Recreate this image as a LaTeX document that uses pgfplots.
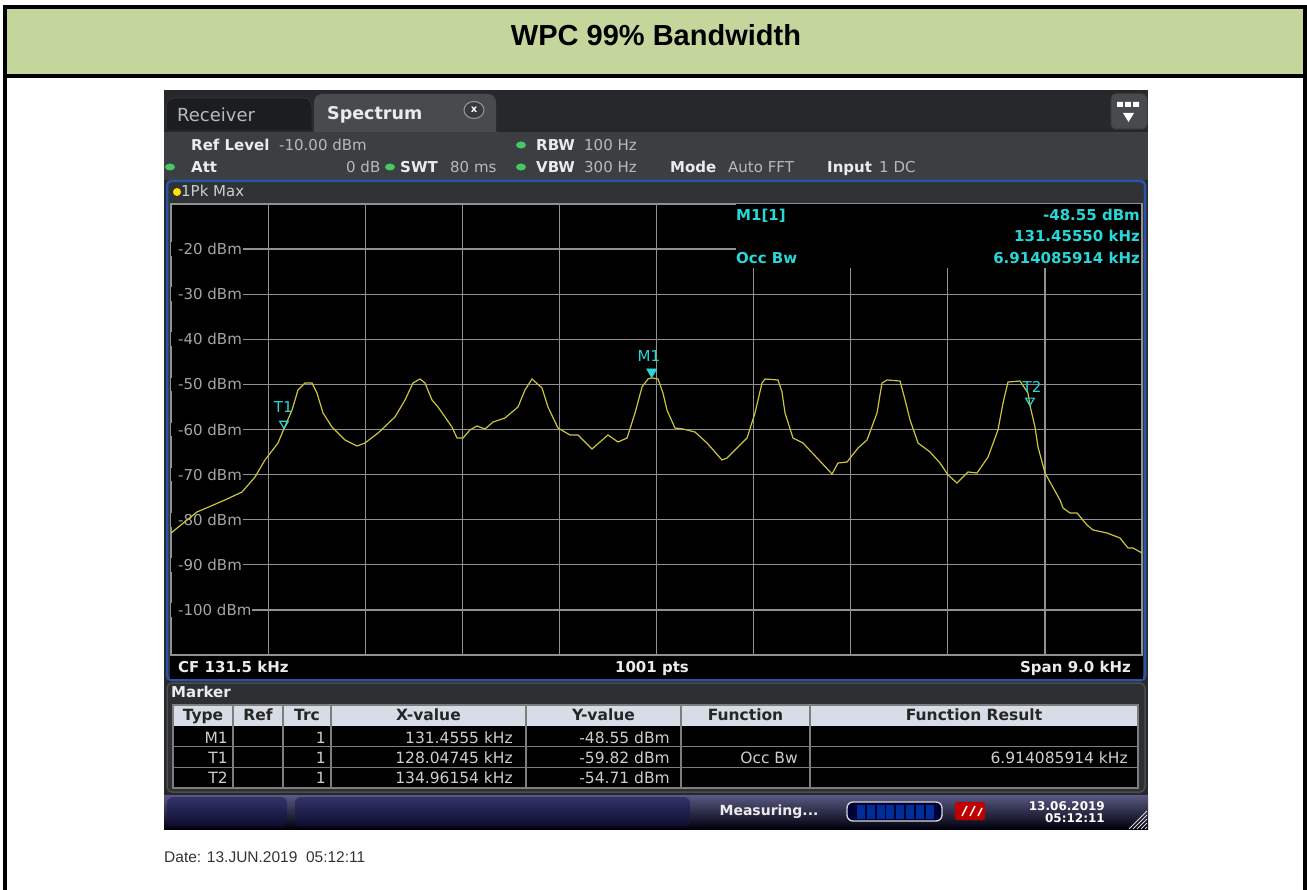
\documentclass[border=0pt]{standalone}
\usepackage{pgfplots}
\pgfplotsset{compat=1.18}
\usepackage{fontspec}
\setmainfont{Liberation Sans}
\newfontfamily\rs{DejaVu Sans}
\newcommand\sz[1]{\fontsize{#1}{#1}\selectfont}
\definecolor{titlegreen}{RGB}{196,214,156}
\definecolor{cyanrs}{RGB}{40,215,215}
\definecolor{trace}{RGB}{205,195,60}
\definecolor{gridc}{RGB}{145,145,145}
\definecolor{lbl}{RGB}{165,165,165}
\definecolor{bgtop}{RGB}{38,40,43}
\definecolor{bginfo}{RGB}{60,63,66}
\definecolor{tabdark}{RGB}{28,29,31}
\definecolor{tablight}{RGB}{72,75,78}
\definecolor{frameblue}{RGB}{40,85,165}
\definecolor{strip}{RGB}{48,51,54}
\definecolor{panel}{RGB}{45,48,51}
\definecolor{hdr}{RGB}{214,221,230}
\definecolor{rowtxt}{RGB}{205,205,205}
\definecolor{cellline}{RGB}{125,125,125}
\definecolor{ledgreen}{RGB}{70,200,100}
\definecolor{valgray}{RGB}{185,185,185}
\definecolor{navyA}{RGB}{50,50,105}
\definecolor{navyB}{RGB}{14,14,50}
\begin{document}
\begin{tikzpicture}[x=1pt,y=-1pt]
% ---------- page ----------
\fill[white] (0,0) rectangle (1307,890);
\fill[titlegreen] (5,7) rectangle (1305,76);
\draw[line width=4pt] (5,890) -- (5,7) -- (1305,7) -- (1305,890);
\draw[line width=4pt] (5,76) -- (1305,76);
\node[anchor=base, font=\bfseries\sz{29}, inner sep=0pt] at (656,46) {WPC 99\% Bandwidth};
\node[anchor=base west, inner sep=0pt, font=\sz{15.5}, text=black!80] at (164,862.5) {Date: 13.JUN.2019\ \ 05:12:11};
% ---------- instrument ----------
\fill[bgtop] (164,90) rectangle (1148,829);
\fill[bginfo] (164,131) rectangle (1148,180);
\filldraw[fill=tabdark, draw=black!60!gray, line width=1pt, rounded corners=8pt] (166,131) -- (166,98) -- (312,98) -- (312,131);
\fill[tablight, rounded corners=8pt] (314,132) -- (314,94) -- (496,94) -- (496,132);
\fill[tablight] (314,125) rectangle (496,132);
\draw[black!85, line width=1.5pt] (164,131) -- (313,131);
\draw[black!85, line width=1.5pt] (497,131) -- (1148,131);
\node[anchor=base west, inner sep=0pt, font=\rs\sz{18}, text=valgray] at (177,121.5) {Receiver};
\node[anchor=base west, inner sep=0pt, font=\rs\bfseries\sz{17.5}, text=white!92!black] at (327,119.5) {Spectrum};
\filldraw[fill=black!55!gray, draw=gray!80, line width=1pt] (474,110) ellipse (10 and 8.5);
\node[font=\rs\bfseries\sz{10}, text=white] at (474,110) {x};
\filldraw[fill=tablight, draw=black!50!gray, line width=1pt, rounded corners=5pt] (1111,94) rectangle (1147,129);
\fill[white] (1117,102) rectangle (1123,107) (1125,102) rectangle (1131,107) (1133,102) rectangle (1139,107);
\fill[white] (1123,113) -- (1134,113) -- (1128.5,122) -- cycle;
% info bar
\begin{scope}[every node/.style={anchor=base west, inner sep=0pt}]
\node[font=\rs\bfseries\sz{15}, text=white!92!black] at (191,150.5) {Ref Level};
\node[font=\rs\sz{15}, text=valgray] at (279,150.5) {-10.00 dBm};
\node[font=\rs\bfseries\sz{15}, text=white!92!black] at (536,150.5) {RBW};
\node[font=\rs\sz{15}, text=valgray] at (584,150.5) {100 Hz};
\node[font=\rs\bfseries\sz{15}, text=white!92!black] at (191,172.5) {Att};
\node[font=\rs\sz{15}, text=valgray] at (346,172.5) {0 dB};
\node[font=\rs\bfseries\sz{15}, text=white!92!black] at (400,172.5) {SWT};
\node[font=\rs\sz{15}, text=valgray] at (450,172.5) {80 ms};
\node[font=\rs\bfseries\sz{15}, text=white!92!black] at (536,172.5) {VBW};
\node[font=\rs\sz{15}, text=valgray] at (584,172.5) {300 Hz};
\node[font=\rs\bfseries\sz{15}, text=white!92!black] at (670,172.5) {Mode};
\node[font=\rs\sz{15}, text=valgray] at (728,172.5) {Auto FFT};
\node[font=\rs\bfseries\sz{15}, text=white!92!black] at (827,172.5) {Input};
\node[font=\rs\sz{15}, text=valgray] at (879,172.5) {1 DC};
\end{scope}
\fill[ledgreen] (521,145) ellipse (5 and 3.5);
\fill[ledgreen] (170,167) ellipse (5 and 3.5);
\fill[ledgreen] (390,167) ellipse (5 and 3.5);
\fill[ledgreen] (521,167) ellipse (5 and 3.5);
% plot panel
\filldraw[fill=strip, draw=frameblue, line width=2.5pt, rounded corners=4pt] (167,181) rectangle (1145,680);
\fill[black] (170,203) rectangle (1143,678.5);
\fill[yellow!85!orange] (177,192) circle (4);
\node[anchor=base west, inner sep=0pt, font=\rs\sz{15}, text=rowtxt] at (181,197) {1Pk Max};
\node[anchor=base west, inner sep=0pt, font=\rs\bfseries\sz{15}, text=white!92!black] at (178,672.5) {CF 131.5 kHz};
\node[anchor=base, inner sep=0pt, font=\rs\bfseries\sz{15}, text=white!92!black] at (652,672.5) {1001 pts};
\node[anchor=base east, inner sep=0pt, font=\rs\bfseries\sz{15}, text=white!92!black] at (1131,672.5) {Span 9.0 kHz};
% ---------- axis 1: grid ----------
\begin{scope}[x=1pt,y=1pt]
\begin{axis}[at={(171pt,-655pt)}, anchor=south west, scale only axis,
  width=971pt, height=451pt, xmin=127, xmax=136, ymin=-110, ymax=-10,
  xtick={127.9,128.8,129.7,130.6,131.5,132.4,133.3,134.2,135.1},
  ytick={-100,-90,-80,-70,-60,-50,-40,-30,-20},
  xticklabels={}, yticklabels={}, major tick length=0pt,
  grid=major, grid style={draw=gridc, line width=1.2pt},
  axis line style={draw=gridc, line width=1.2pt},
  axis background/.style={fill=black}]
\addplot[draw=none] coordinates {(127,-110) (136,-10)};
\pgfplotsinvokeforeach{-20,-30,-40,-50,-60,-70,-80,-90}{
  \node[anchor=west, fill=black, inner ysep=1pt, inner xsep=0pt, text=lbl, font=\rs\sz{15}] at (axis cs:127,#1) {\hspace*{7pt}#1 dBm\hspace*{1pt}};
}
\node[anchor=west, fill=black, inner ysep=1pt, inner xsep=0pt, text=lbl, font=\rs\sz{15}] at (axis cs:127,-100) {\hspace*{7pt}-100 dBm\hspace*{1pt}};
\end{axis}
\end{scope}
% marker info box
\fill[black] (736,204.5) rectangle (1141,268);
\begin{scope}[every node/.style={inner sep=0pt, font=\rs\bfseries\sz{15}, text=cyanrs}]
\node[anchor=base west] at (736,220.5) {M1[1]};
\node[anchor=base east] at (1140,220.5) {-48.55 dBm};
\node[anchor=base east] at (1140,241.5) {131.45550 kHz};
\node[anchor=base west] at (736,263.5) {Occ Bw};
\node[anchor=base east] at (1140,263.5) {6.914085914 kHz};
\end{scope}
% ---------- axis 2: trace ----------
\begin{scope}[x=1pt,y=1pt]
\begin{axis}[at={(171pt,-655pt)}, anchor=south west, scale only axis,
  width=971pt, height=451pt, xmin=127, xmax=136, ymin=-110, ymax=-10,
  hide axis, clip=false]
\addplot[trace, line width=1.2pt] coordinates {
(127.000,-82.95) (127.241,-78.29) (127.500,-75.63) (127.658,-73.86) (127.779,-70.53)
(127.871,-66.76) (127.992,-62.99) (128.047,-59.82) (128.122,-55.68) (128.177,-51.24)
(128.242,-49.69) (128.307,-49.69) (128.353,-51.91) (128.409,-56.34) (128.492,-59.45)
(128.613,-62.33) (128.724,-63.66) (128.798,-62.99) (128.919,-60.78) (129.076,-57.23)
(129.169,-53.46) (129.243,-49.69) (129.308,-48.80) (129.354,-49.69) (129.419,-53.46)
(129.475,-55.01) (129.540,-57.23) (129.604,-59.45) (129.651,-61.88) (129.707,-61.88)
(129.771,-60.11) (129.836,-59.22) (129.910,-59.89) (129.985,-58.34) (130.096,-57.45)
(130.216,-55.01) (130.281,-51.24) (130.346,-48.80) (130.439,-50.80) (130.494,-55.01)
(130.587,-59.67) (130.698,-61.22) (130.772,-61.22) (130.902,-64.32) (131.050,-61.22)
(131.143,-62.77) (131.227,-61.88) (131.301,-56.34) (131.366,-50.58) (131.421,-48.80)
(131.456,-48.55) (131.514,-48.80) (131.560,-51.91) (131.597,-55.68) (131.671,-59.67)
(131.746,-59.89) (131.857,-60.56) (131.968,-62.99) (132.107,-66.76) (132.153,-66.32)
(132.274,-63.44) (132.339,-61.88) (132.413,-56.34) (132.478,-49.69) (132.506,-48.80)
(132.626,-49.02) (132.663,-51.68) (132.691,-56.34) (132.765,-61.88) (132.858,-62.99)
(132.988,-66.32) (133.127,-69.87) (133.182,-67.43) (133.266,-67.21) (133.368,-64.10)
(133.451,-62.33) (133.544,-56.34) (133.590,-49.69) (133.637,-49.02) (133.757,-49.25)
(133.804,-53.46) (133.850,-57.89) (133.924,-62.99) (134.035,-64.99) (134.128,-67.43)
(134.202,-70.09) (134.285,-71.86) (134.387,-69.42) (134.471,-69.65) (134.573,-66.10)
(134.665,-60.11) (134.712,-54.12) (134.758,-49.47) (134.869,-49.25) (134.943,-51.91)
(134.962,-54.71) (135.008,-59.45) (135.036,-63.88) (135.101,-69.65) (135.240,-75.63)
(135.268,-77.41) (135.333,-78.51) (135.398,-78.51) (135.490,-81.18) (135.546,-82.28)
(135.676,-82.95) (135.796,-84.06) (135.870,-86.28) (135.917,-86.28) (136.000,-87.39)};
\addplot[only marks, mark=triangle*, mark size=6pt, mark options={yshift=6pt, rotate=180, fill=cyanrs, draw=cyanrs}] coordinates {(131.4555,-48.55)};
\addplot[only marks, mark=triangle, mark size=5pt, mark options={yshift=5pt, rotate=180, draw=cyanrs, line width=1.2pt}] coordinates {(128.04745,-59.82) (134.96154,-54.71)};
\node[anchor=base, inner sep=0pt, font=\rs\sz{15}, text=cyanrs] at (axis cs:131.43,-45.0) {M1};
\node[anchor=base, inner sep=0pt, font=\rs\sz{15}, text=cyanrs] at (axis cs:128.04,-56.3) {T1};
\node[anchor=base, inner sep=0pt, font=\rs\sz{15}, text=cyanrs] at (axis cs:134.98,-51.9) {T2};
\end{axis}
\end{scope}
% ---------- marker table ----------
\filldraw[fill=panel, draw=black!40!gray, line width=1.5pt, rounded corners=5pt] (167,683) rectangle (1145,792);
\node[anchor=base west, inner sep=0pt, font=\rs\bfseries\sz{15}, text=white!92!black] at (171,697.5) {Marker};
\fill[hdr] (173,705) rectangle (1138,725.5);
\fill[black] (173,725.5) rectangle (1138,788);
\draw[cellline, line width=1.5pt] (173,705) rectangle (1138,788);
\draw[cellline, line width=1.5pt] (173,746.5) -- (1138,746.5) (173,767.5) -- (1138,767.5);
\foreach \c in {233,283,331,526,681,810} {\draw[cellline, line width=1.5pt] (\c,705) -- (\c,788);}
\begin{scope}[every node/.style={anchor=base, inner sep=0pt, font=\rs\bfseries\sz{15.5}, text=black!85}]
\node at (203,720.5) {Type};
\node at (258,720.5) {Ref};
\node at (307,720.5) {Trc};
\node at (428.5,720.5) {X-value};
\node at (603.5,720.5) {Y-value};
\node at (745.5,720.5) {Function};
\node at (974,720.5) {Function Result};
\end{scope}
\begin{scope}[every node/.style={anchor=base east, inner sep=0pt, font=\rs\sz{15.5}, text=rowtxt}]
\node at (228,743) {M1}; \node at (326,743) {1}; \node at (513,743) {131.4555 kHz}; \node at (670,743) {-48.55 dBm};
\node at (228,763) {T1}; \node at (326,763) {1}; \node at (513,763) {128.04745 kHz}; \node at (670,763) {-59.82 dBm};
\node at (798,763) {Occ Bw}; \node at (1128,763) {6.914085914 kHz};
\node at (228,783.5) {T2}; \node at (326,783.5) {1}; \node at (513,783.5) {134.96154 kHz}; \node at (670,783.5) {-54.71 dBm};
\end{scope}
% ---------- status bar ----------
\shade[top color=black!45!blue!30!gray, bottom color=black!95!blue] (164,795) rectangle (1148,829);
\shade[top color=navyA, bottom color=navyB, rounded corners=6pt] (167,797) rectangle (287,826);
\shade[top color=navyA, bottom color=navyB, rounded corners=6pt] (295,797) rectangle (690,826);
\node[anchor=base, inner sep=0pt, font=\rs\bfseries\sz{14}, text=white!92!black] at (769,815) {Measuring...};
\filldraw[fill=black!80!blue, draw=white!85!black, line width=1.3pt, rounded corners=6pt] (847,802) rectangle (942,821);
\foreach \i in {0,...,7} {\fill[blue!70!cyan!60!black] ({857+\i*9.8},804.5) rectangle ({865+\i*9.8},818.5);}
\fill[red!75!black, rounded corners=2pt] (955,802) rectangle (985,820);
\draw[white, line width=1.5pt] (962,816) -- (967,806) (970,816) -- (975,806) (978,816) -- (982,808);
\node[anchor=base east, inner sep=0pt, font=\rs\bfseries\sz{12}, text=white] at (1105,810) {13.06.2019};
\node[anchor=base east, inner sep=0pt, font=\rs\bfseries\sz{12}, text=white] at (1105,822) {05:12:11};
\foreach \i in {0,...,4} {\draw[white!85!black, line width=1pt] ({1129+\i*4},829) -- ({1147},{829-(18-\i*4)});}
\pgfresetboundingbox
\useasboundingbox (0,0) rectangle (1307,890);
\end{tikzpicture}
\end{document}
